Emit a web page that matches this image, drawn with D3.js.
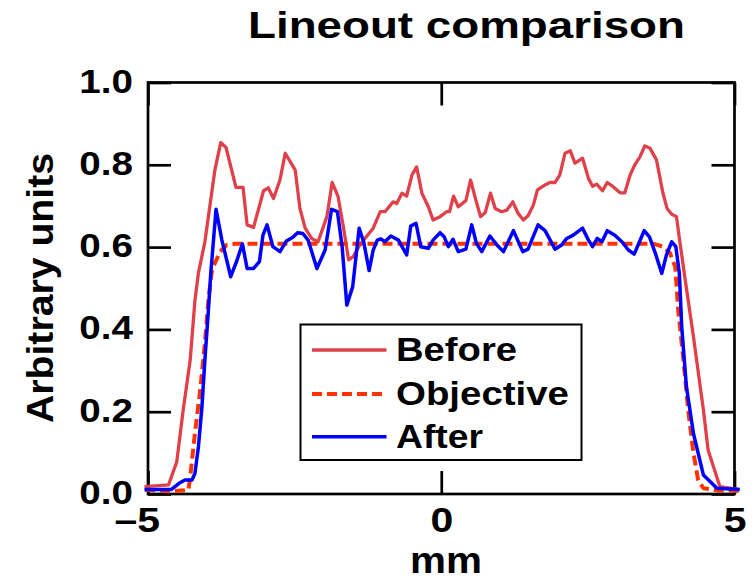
<html>
<head>
<style>
  body { margin: 0; background: #fff; }
  svg text { font-family: "Liberation Sans", Arial, Helvetica, sans-serif; font-weight: bold; fill: #000; }
</style>
</head>
<body>
<svg id="chart" width="754" height="581"></svg>
<script src="https://d3js.org/d3.v7.min.js"></script>
<script>
// values (mm, arbitrary units)
const beforeX = [-5.06,-4.65,-4.51,-4.40,-4.28,-4.20,-4.14,-4.03,-3.86,-3.76,-3.67,-3.50,-3.38,-3.31,-3.20,-3.03,-2.95,-2.86,-2.75,-2.66,-2.49,-2.41,-2.32,-2.21,-2.10,-1.95,-1.86,-1.76,-1.67,-1.58,-1.50,-1.39,-1.16,-1.04,-0.96,-0.82,-0.76,-0.67,-0.59,-0.50,-0.42,-0.33,-0.22,-0.14,-0.02,0.09,0.14,0.21,0.29,0.42,0.50,0.59,0.67,0.75,0.84,0.92,1.03,1.12,1.22,1.31,1.40,1.48,1.57,1.64,1.77,1.85,1.94,2.02,2.11,2.20,2.28,2.41,2.51,2.58,2.65,2.75,2.83,2.92,3.05,3.13,3.22,3.30,3.39,3.47,3.56,3.67,3.78,3.85,3.93,4.01,4.08,4.16,4.30,4.47,4.55,4.75,5.07];
const beforeY = [0.018,0.022,0.078,0.204,0.326,0.47,0.537,0.613,0.787,0.854,0.842,0.745,0.745,0.654,0.648,0.737,0.744,0.718,0.763,0.828,0.787,0.694,0.646,0.621,0.613,0.674,0.757,0.723,0.65,0.569,0.577,0.605,0.646,0.686,0.686,0.710,0.706,0.731,0.724,0.775,0.795,0.731,0.698,0.666,0.674,0.686,0.686,0.724,0.698,0.713,0.763,0.714,0.674,0.684,0.731,0.694,0.686,0.690,0.710,0.682,0.666,0.676,0.702,0.739,0.751,0.757,0.757,0.775,0.828,0.834,0.804,0.816,0.767,0.748,0.753,0.737,0.757,0.748,0.732,0.732,0.775,0.80,0.82,0.846,0.840,0.812,0.731,0.694,0.680,0.674,0.601,0.52,0.382,0.204,0.107,0.018,0.011];

const objectiveX = [-5.05,-4.62,-4.31,-4.28,-4.20,-4.11,-4.03,-3.97,-3.91,-3.86,-3.77,-3.66,-3.52,0,3.62,3.79,3.90,3.99,4.04,4.13,4.21,4.30,4.38,4.47,4.75,5.09];
const objectiveY = [0.010,0.006,0.010,0.042,0.147,0.253,0.366,0.471,0.544,0.561,0.589,0.605,0.608,0.608,0.608,0.601,0.585,0.552,0.447,0.326,0.204,0.10,0.034,0.014,0.008,0.008];

const afterX = [-5.06,-4.60,-4.47,-4.37,-4.25,-4.20,-4.14,-4.08,-4.03,-3.97,-3.93,-3.84,-3.74,-3.59,-3.49,-3.39,-3.31,-3.20,-3.10,-3.04,-2.97,-2.87,-2.75,-2.64,-2.53,-2.45,-2.36,-2.27,-2.12,-1.98,-1.87,-1.77,-1.69,-1.61,-1.51,-1.40,-1.32,-1.23,-1.16,-1.09,-1.03,-0.96,-0.86,-0.73,-0.59,-0.52,-0.43,-0.35,-0.22,-0.14,-0.02,0.05,0.12,0.20,0.29,0.42,0.52,0.60,0.69,0.83,0.95,1.06,1.23,1.39,1.48,1.65,1.77,1.94,2.05,2.14,2.25,2.41,2.51,2.58,2.66,2.74,2.83,2.96,3.08,3.19,3.29,3.38,3.46,3.55,3.66,3.76,3.84,3.93,4.00,4.06,4.10,4.18,4.30,4.47,4.70,5.09];
const afterY = [0.011,0.011,0.026,0.034,0.034,0.05,0.115,0.212,0.326,0.447,0.536,0.692,0.617,0.528,0.565,0.608,0.548,0.548,0.565,0.629,0.654,0.601,0.589,0.615,0.624,0.635,0.633,0.617,0.548,0.593,0.692,0.686,0.601,0.459,0.504,0.646,0.611,0.543,0.593,0.617,0.62,0.613,0.627,0.617,0.581,0.651,0.658,0.601,0.597,0.617,0.635,0.625,0.601,0.619,0.589,0.595,0.654,0.609,0.589,0.627,0.605,0.589,0.640,0.589,0.595,0.654,0.640,0.595,0.605,0.621,0.629,0.646,0.617,0.601,0.621,0.613,0.640,0.629,0.613,0.593,0.583,0.613,0.640,0.625,0.581,0.536,0.581,0.613,0.601,0.536,0.407,0.261,0.147,0.046,0.014,0.011];

const xTicks = [-5, 0, 5];
const yTicks = [0, 0.2, 0.4, 0.6, 0.8, 1.0];
const seriesNames = ["Before", "Objective", "After"];
const seriesColors = ["#e0404a", "#ff3300", "#0000ff"];

const svg = d3.select("#chart");
const x = d3.scaleLinear().domain([-5, 5]).range([148, 734.5]);
const y = d3.scaleLinear().domain([0, 1]).range([494, 82.5]);
const tickLen = 23;

// stretch text horizontally a bit, the reference lettering is wide
function widen(sel, k) {
    sel.each(function () {
        let w = this.getComputedTextLength();
        d3.select(this).attr("textLength", w * k).attr("lengthAdjust", "spacingAndGlyphs");
    });
}

// frame
svg.append("rect")
    .attr("x", x(-5)).attr("y", y(1))
    .attr("width", x(5) - x(-5)).attr("height", y(0) - y(1))
    .attr("fill", "none").attr("stroke", "#000").attr("stroke-width", 2.7);

// axes
let yAxis = svg.append("g").attr("transform", `translate(${x(-5)},0)`)
    .call(d3.axisLeft(y).tickValues(yTicks).tickSizeInner(-tickLen).tickSizeOuter(0)
        .tickPadding(15).tickFormat(d3.format(".1f")));
let yAxisR = svg.append("g").attr("transform", `translate(${x(5)},0)`)
    .call(d3.axisRight(y).tickValues(yTicks).tickSizeInner(-tickLen).tickSizeOuter(0).tickFormat(""));
let xAxis = svg.append("g").attr("transform", `translate(0,${y(0)})`)
    .call(d3.axisBottom(x).tickValues(xTicks).tickSizeInner(-tickLen).tickSizeOuter(0)
        .tickPadding(13).tickFormat(d => d < 0 ? "\u2013" + Math.abs(d) : d));
let xAxisT = svg.append("g").attr("transform", `translate(0,${y(1)})`)
    .call(d3.axisTop(x).tickValues(xTicks).tickSizeInner(-tickLen).tickSizeOuter(0).tickFormat(""));

[yAxis, yAxisR, xAxis, xAxisT].forEach(g => {
    g.select(".domain").remove();
    g.selectAll(".tick line").attr("stroke", "#000").attr("stroke-width", 2.7);
});

yAxis.selectAll("text").attr("font-size", 33).attr("dy", "0.29em").attr("font-family", null);
xAxis.selectAll("text").attr("font-size", 35).attr("text-anchor", "end").attr("x", 11.5)
    .attr("font-family", null);
widen(yAxis.selectAll("text"), 1.17);
widen(xAxis.selectAll("text"), 1.17);

// data lines
let line = d3.line().x(d => x(d[0])).y(d => y(d[1]));
let series = [
    d3.zip(beforeX, beforeY),
    d3.zip(objectiveX, objectiveY),
    d3.zip(afterX, afterY)
];
let widths = [3.3, 4, 3.5];
series.forEach((pts, i) => {
    svg.append("path")
        .datum(pts)
        .attr("d", line)
        .attr("fill", "none")
        .attr("stroke", seriesColors[i])
        .attr("stroke-width", widths[i])
        .attr("stroke-linejoin", "round")
        .attr("stroke-dasharray", i == 1 ? "10,5" : null);
});

// legend
let legend = svg.append("g");
legend.append("rect")
    .attr("x", 300.5).attr("y", 324.5).attr("width", 281).attr("height", 135.5)
    .attr("fill", "#fff").attr("stroke", "#000").attr("stroke-width", 2);
let rowY = [350, 394, 436.7];
let textW = [121, 173, 87];
seriesNames.forEach((name, i) => {
    legend.append("line")
        .attr("x1", 312).attr("x2", 386.5)
        .attr("y1", rowY[i]).attr("y2", rowY[i])
        .attr("stroke", seriesColors[i]).attr("stroke-width", widths[i])
        .attr("stroke-dasharray", i == 1 ? "10,5" : null);
    legend.append("text")
        .attr("x", 396).attr("y", rowY[i] + 11)
        .attr("font-size", 34)
        .attr("textLength", textW[i]).attr("lengthAdjust", "spacingAndGlyphs")
        .text(name);
});

// title and axis labels
svg.append("text").attr("x", 248).attr("y", 38)
    .attr("font-size", 36).attr("textLength", 437).attr("lengthAdjust", "spacingAndGlyphs")
    .text("Lineout comparison");
svg.append("text").attr("x", 446).attr("y", 573)
    .attr("font-size", 36).attr("text-anchor", "middle")
    .attr("textLength", 72).attr("lengthAdjust", "spacingAndGlyphs")
    .text("mm");
svg.append("text").attr("transform", "translate(53,288) rotate(-90)")
    .attr("font-size", 36).attr("text-anchor", "middle")
    .attr("textLength", 270).attr("lengthAdjust", "spacingAndGlyphs")
    .text("Arbitrary units");
</script>
</body>
</html>
